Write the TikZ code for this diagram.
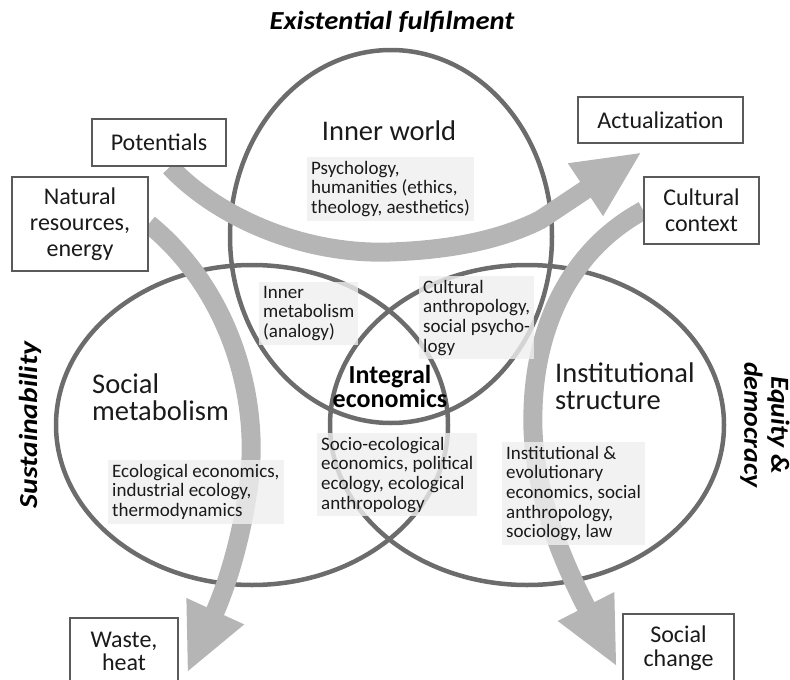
\documentclass[tikz,border=0pt]{standalone}
\usepackage{fontspec}
\setmainfont{Carlito}
\usetikzlibrary{arrows.meta}
\definecolor{ringgray}{HTML}{6C6C6C}
\definecolor{flowgray}{HTML}{B5B5B5}
\definecolor{inkgray}{HTML}{1A1A1A}
\definecolor{notegray}{HTML}{EFEFEF}
\definecolor{framegray}{HTML}{5A5A5A}
\pgfdeclarelayer{background}
\pgfsetlayers{background,main}

\begin{document}
\begin{tikzpicture}[x=1pt,y=-1pt,
  ring/.style={draw=ringgray,line width=4.5pt},
  flow/.style={draw=flowgray,line width=19pt,-{Triangle[length=68pt,width=58pt]}},
  labelbox/.style={draw=framegray,line width=1.5pt,fill=white,align=center,text=inkgray,
    font=\fontsize{24}{26}\selectfont,inner sep=0pt},
  spherename/.style={align=left,text=inkgray,font=\fontsize{28.5}{27.5}\selectfont,inner sep=0pt},
  discnote/.style={fill=notegray,fill opacity=0.8,text opacity=1,align=left,text=inkgray,
    font=\fontsize{19}{19.6}\selectfont,anchor=north west,inner xsep=4pt,inner ysep=4pt},
  axislabel/.style={text=black,font=\fontsize{26}{27}\selectfont\bfseries\itshape,align=center}
]
\useasboundingbox (0,0) rectangle (790,680);
\clip (0,0) rectangle (790,680);

% boxes at the ends of the flows
\node[labelbox,minimum width=134pt,minimum height=47pt] (pot) at (159,142.5) {Potentials};
\node[labelbox,minimum width=136pt,minimum height=94pt] (nat) at (80,224) {Natural\\resources,\\energy};
\node[labelbox,minimum width=165pt,minimum height=46pt] (act) at (660.5,120) {Actualization};
\node[labelbox,minimum width=115pt,minimum height=67pt] (cult) at (701.5,210.5) {Cultural\\context};
\node[labelbox,minimum width=108pt,minimum height=66pt,font=\fontsize{24}{23}\selectfont] (waste) at (124,651) {Waste,\\heat};
\node[labelbox,minimum width=111pt,minimum height=68pt,font=\fontsize{24}{24}\selectfont] (soc) at (678.5,648) {Social\\change};

% arrow tips
\coordinate (tipact) at (642,152);
\coordinate (tipwaste) at (187,673);
\coordinate (tipsoc) at (617,667);

\begin{pgfonlayer}{background}
% the three overlapping spheres
\draw[ring] (391,236.5) ellipse [x radius=161pt, y radius=186.5pt];
\draw[ring] (252,425) ellipse [x radius=196pt, y radius=160pt];
\draw[ring] (527,425) ellipse [x radius=197pt, y radius=160pt];

% flows
\draw[flow] ([xshift=11pt]pot.south) .. controls (215,215) and (300,255) .. (390,252)
  .. controls (450,250) and (500,240) .. (540,220) -- (tipact);
\draw[flow] (nat.east) .. controls (230,290) and (262,400) .. (248,490)
  .. controls (240,545) and (225,590) .. (tipwaste);
\draw[flow] (cult.west) .. controls (570,250) and (530,330) .. (533,430)
  .. controls (536,510) and (575,585) .. (tipsoc);
\end{pgfonlayer}

% disciplines
\node[discnote] (psy) at (307,157) {Psychology,\\humanities (ethics,\\theology, aesthetics)};
\node[discnote] (inm) at (259,282) {Inner\\metabolism\\(analogy)};
\node[discnote] (cua) at (419,276) {Cultural\\anthropology,\\social psycho-\\logy};
\node[discnote] (see) at (317,433) {Socio-ecological\\economics, political\\ecology, ecological\\anthropology};
\node[discnote] (eco) at (108,460) {Ecological economics,\\industrial ecology,\\thermodynamics};
\node[discnote] (ins) at (502,442) {Institutional \&\\evolutionary\\economics, social\\anthropology,\\sociology, law};

% sphere names
\node[spherename] (inner) at (389,131) {Inner world};
\node[spherename,anchor=west] (socmet) at (92,397) {Social\\metabolism};
\node[spherename,anchor=west] (inst) at (555,386) {Institutional\\structure};
\node[align=center,text=black,font=\fontsize{26}{24}\selectfont\bfseries,inner sep=0pt] (integ) at (390,386) {Integral\\economics};

% axes
\node[axislabel] (exist) at (392,22) {\scalebox{1.1}[1]{Existential fulfilment}};
\node[axislabel,rotate=90] (sust) at (30,425) {\scalebox{1.14}[1]{Sustainability}};
\node[axislabel,rotate=-90] (equ) at (765,425) {\scalebox{1.07}[1]{Equity \&}\\\scalebox{1.07}[1]{democracy}};
\end{tikzpicture}
\end{document}
